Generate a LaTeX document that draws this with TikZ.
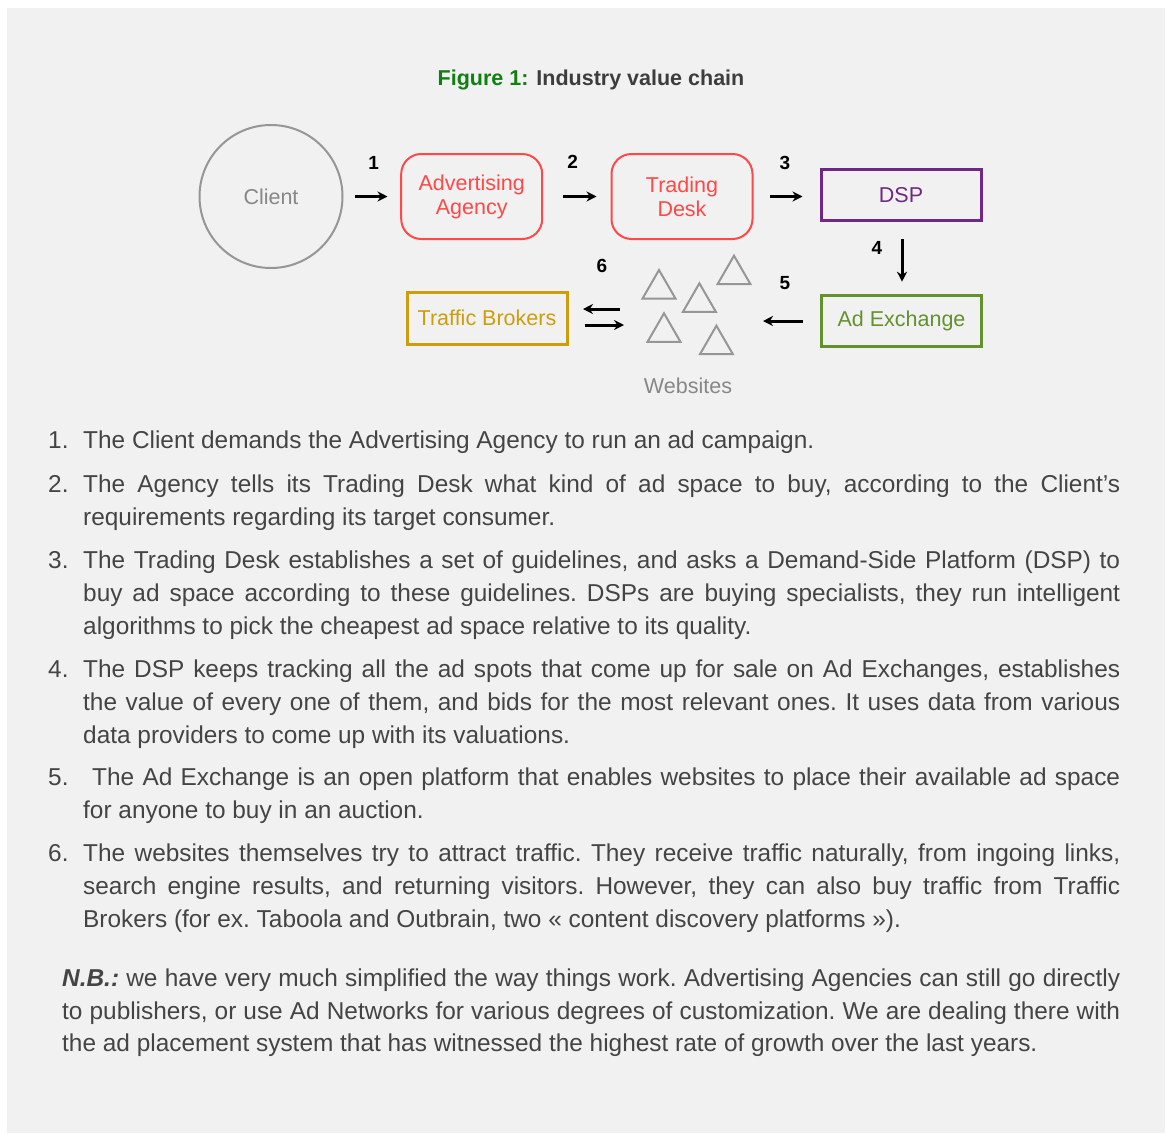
\documentclass[tikz,border=0pt]{standalone}
\usepackage{fontspec}
\setmainfont{Liberation Sans}
\usepackage{xcolor}
\usepackage{tikz}
\usetikzlibrary{calc, positioning, shapes.geometric, arrows.meta}
\definecolor{pagegray}{RGB}{241,241,241}
\definecolor{bodygray}{RGB}{68,68,68}
\definecolor{titlegreen}{RGB}{16,128,16}
\definecolor{agencyred}{RGB}{255,72,72}
\definecolor{dsppurple}{RGB}{112,40,135}
\definecolor{exgreen}{RGB}{98,145,45}
\definecolor{brokergold}{RGB}{204,158,14}
\definecolor{sitegray}{RGB}{150,150,150}
\newcommand{\diagfont}{\fontsize{21.5}{24}\selectfont}
\newcommand{\bodyfont}{\fontsize{24.4}{33}\selectfont\frenchspacing\hyphenpenalty=10000\tolerance=9000\emergencystretch=20pt}
\newcommand{\notefont}{\fontsize{24.4}{32.5}\selectfont\frenchspacing\hyphenpenalty=10000\tolerance=9000\emergencystretch=20pt}
\tikzstyle{rbox}=[draw=agencyred, text=agencyred, line width=2pt, rounded corners=20pt, minimum width=141pt, minimum height=85pt, inner sep=0pt, align=center, font=\diagfont]
\tikzstyle{fbox}=[line width=3pt, minimum width=160pt, minimum height=51pt, inner sep=0pt, font=\diagfont]
\tikzstyle{site}=[draw=sitegray, line width=2pt, shape=regular polygon, regular polygon sides=3, minimum size=38pt, inner sep=0pt]
\tikzstyle{lbl}=[inner sep=0pt, font=\fontsize{19}{19}\selectfont\bfseries]
\tikzstyle{flow}=[->, line width=3pt]
\tikzstyle{para}=[anchor=base west, inner sep=0pt, text width=1037pt, align=justify, text=bodygray, font=\bodyfont]
\tikzstyle{itemno}=[anchor=base west, inner sep=0pt, text=bodygray, font=\bodyfont]
\tikzset{>={Stealth[length=10pt,width=10pt]}}

\begin{document}
\begin{tikzpicture}[x=1pt, y=-1pt]
\useasboundingbox (0,0) rectangle (1166,1133);
\fill[white] (0,0) rectangle (1166,1133);
\fill[pagegray] (7,8) rectangle (1165,1133);
% title
\node[inner sep=0pt, font=\fontsize{21.5}{24}\selectfont\bfseries] (title) at (591,80)
  {\textcolor{titlegreen}{Figure 1:} \textcolor{bodygray!90!black}{Industry value chain}};
% the chain, top row
\node[draw=sitegray, text=sitegray!90!black, line width=2pt, circle, minimum size=143pt, inner sep=0pt, font=\diagfont] (client) at (271,196.5) {Client};
\node[rbox] (agency) at (471.7,196.5) {Advertising\\Agency};
\node[rbox] (desk) at (682,196.5) {Trading\\Desk};
\node[fbox, draw=dsppurple, text=dsppurple] (dsp) at (901,195.3) {DSP};
% the chain, bottom row
\node[fbox, draw=exgreen, text=exgreen] (adex) at (901.5,321) {Ad Exchange};
\node[fbox, draw=brokergold, text=brokergold, minimum height=52pt] (broker) at (487,318.2) {Traffic Brokers};
% the websites
\node[site] (s1) at (659,289) {};
\node[site] (s2) at (699.4,302.3) {};
\node[site] (s3) at (734,274.7) {};
\node[site] (s4) at (664,332.3) {};
\node[site] (s5) at (716.4,344.7) {};
\node[inner sep=0pt, text=sitegray!90!black, font=\diagfont] (sites) at (688,386) {Websites};
\coordinate (sitein) at (763,321);
\coordinate (sitetop) at (620,309);
\coordinate (sitebot) at (624,325);
% the arrows
\draw[flow, shorten <=11.5pt, shorten >=12.7pt] (client) -- (agency);
\draw[flow, shorten <=19.8pt, shorten >=14pt] (agency) -- (desk);
\draw[flow, shorten <=16.3pt, shorten >=17pt] (desk.east) -- (desk.east -| dsp.west);
\draw[flow, shorten <=16.7pt, shorten >=12.3pt] ([xshift=1pt]dsp.south) -- ([xshift=1pt]dsp.south |- adex.north);
\draw[flow, shorten <=17pt] (adex.west) -- (sitein);
\draw[flow, shorten >=14.5pt] (sitetop) -- (broker.east |- sitetop);
\draw[flow, shorten <=16pt] (broker.east |- sitebot) -- (sitebot);
% the step numbers
\node[lbl] (l1) at (373.7,163) {1};
\node[lbl] (l2) at (572.7,162) {2};
\node[lbl] (l3) at (785,162.7) {3};
\node[lbl] (l4) at (877,248) {4};
\node[lbl] (l5) at (785,283) {5};
\node[lbl] (l6) at (602,266) {6};
% the list
\node[itemno] (n1) at (48,448.5) {1.};
\node[para] (item1) at (83,448.5) {The Client demands the Advertising Agency to run an ad campaign.};
\node[itemno] (n2) at (48,492.5) {2.};
\node[para] (item2) at (83,492.5) {The Agency tells its Trading Desk what kind of ad space to buy, according to the Client’s\linebreak requirements regarding its target consumer.};
\node[itemno] (n3) at (48,568) {3.};
\node[para] (item3) at (83,568) {The Trading Desk establishes a set of guidelines, and asks a Demand-Side Platform (DSP) to\linebreak buy ad space according to these guidelines. DSPs are buying specialists, they run intelligent\linebreak algorithms to pick the cheapest ad space relative to its quality.};
\node[itemno] (n4) at (48,677) {4.};
\node[para] (item4) at (83,677) {The DSP keeps tracking all the ad spots that come up for sale on Ad Exchanges, establishes\linebreak the value of every one of them, and bids for the most relevant ones. It uses data from various\linebreak data providers to come up with its valuations.};
\node[itemno] (n5) at (48,785.5) {5.};
\node[para] (item5) at (83,785.5) {\hspace*{9pt}The Ad Exchange is an open platform that enables websites to place their available ad space\linebreak for anyone to buy in an auction.};
\node[itemno] (n6) at (48,861.5) {6.};
\node[para] (item6) at (83,861.5) {The websites themselves try to attract traffic. They receive traffic naturally, from ingoing links,\linebreak search engine results, and returning visitors. However, they can also buy traffic from Traffic\linebreak Brokers (for ex. Taboola and Outbrain, two « content discovery platforms »).};
% the closing note
\node[para, text width=1058pt, font=\notefont] (note) at (62,986.5) {\textbf{\textit{N.B.:}} we have very much simplified the way things work. Advertising Agencies can still go directly\linebreak to publishers, or use Ad Networks for various degrees of customization. We are dealing there with\linebreak the ad placement system that has witnessed the highest rate of growth over the last years.};
\end{tikzpicture}
\end{document}
